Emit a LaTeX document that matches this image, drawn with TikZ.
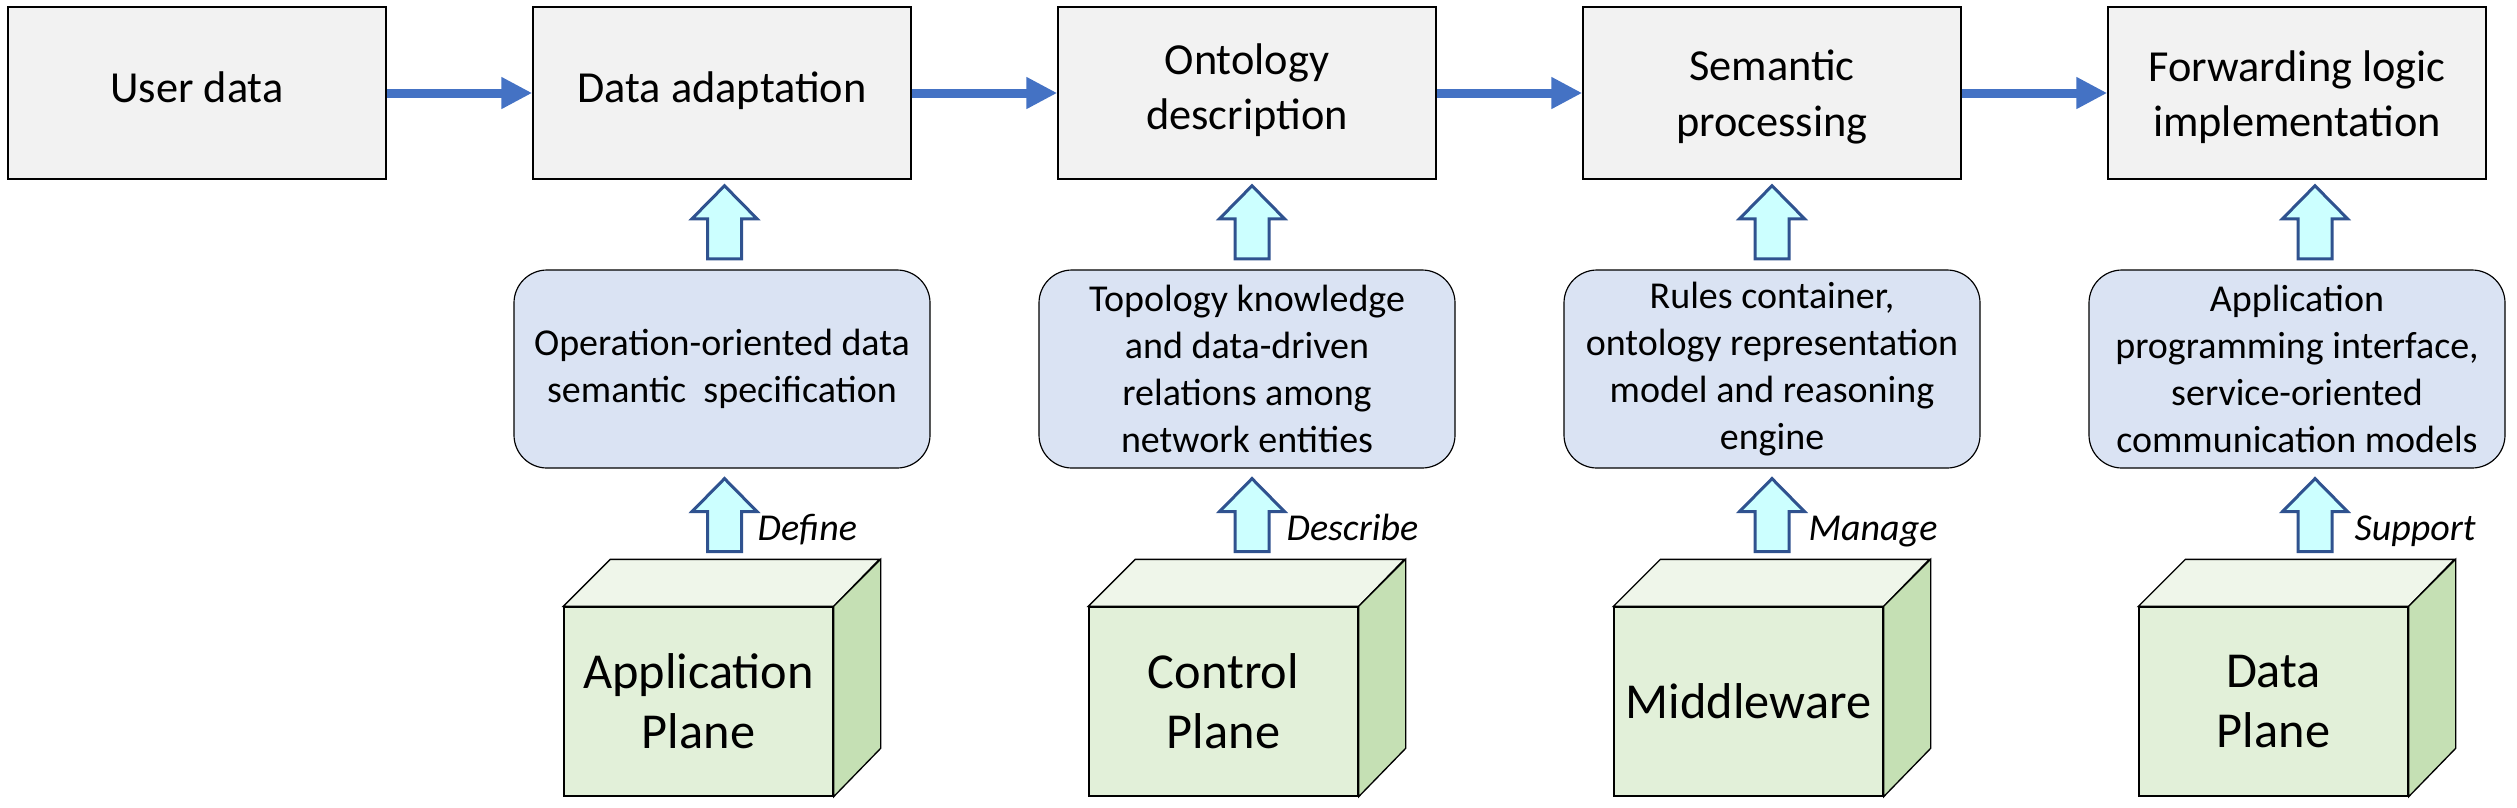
\documentclass[tikz,border=0pt]{standalone}
\usepackage{fontspec}
\setmainfont{Carlito}
\usetikzlibrary{arrows.meta,calc}
\definecolor{flowblue}{HTML}{4472C4}
\definecolor{boxgray}{HTML}{F2F2F2}
\definecolor{roundblue}{HTML}{DAE3F3}
\definecolor{arrowfill}{HTML}{CCFFFF}
\definecolor{arrowline}{HTML}{2F528F}
\definecolor{cubefront}{HTML}{E2F0D9}
\definecolor{cubetop}{HTML}{EFF6EA}
\definecolor{cubeside}{HTML}{C5E0B4}
\tikzset{
  topbox/.style={draw=black, line width=0.45pt, fill=boxgray, minimum width=113.4pt, minimum height=51.6pt, inner sep=0pt},
  toptext/.style={font=\fontsize{13.3}{16.6}\selectfont, align=center, inner sep=0pt},
  flow/.style={draw=flowblue, line width=2.7pt, -{Triangle[length=9.3pt,width=9pt]}},
  roundbox/.style={draw=black, line width=0.35pt, fill=roundblue, rounded corners=9.9pt, minimum width=124.8pt, minimum height=59.4pt, align=center, font=\fontsize{11.4}{14.1}\selectfont, inner sep=0pt},
  blockarrow/.style={draw=arrowline, fill=arrowfill, line width=0.9pt, line join=miter},
  cubefrontface/.style={draw=black, line width=0.4pt, fill=cubefront, minimum width=80.7pt, minimum height=56.7pt, inner sep=0pt, align=center, font=\fontsize{15.1}{17.9}\selectfont},
  cubetopface/.style={draw=black, line width=0.4pt, fill=cubetop, line join=miter},
  cubesideface/.style={draw=black, line width=0.4pt, fill=cubeside, line join=miter},
  tag/.style={font=\itshape\fontsize{11.4}{14}\selectfont, anchor=base west, inner sep=0pt},
}
\newcommand\blockup[1]{%
  \draw[blockarrow] (#1) -- ++(32.5,33) -- ++(-15.5,0) -- ++(0,40) -- ++(-34,0) -- ++(0,-40) -- ++(-15.5,0) -- cycle;}
\newcommand\cubeparts[1]{%
  \draw[cubetopface] (#1.north west) -- ++(47,-47) -- ++(269,0) -- (#1.north east) -- cycle;
  \draw[cubesideface] (#1.north east) -- ++(47,-47) -- ++(0,189) -- (#1.south east) -- cycle;}
\begin{document}
\begin{tikzpicture}[x=0.3pt,y=-0.3pt]
\useasboundingbox (0,0) rectangle (2517,807);
% top row boxes
\node[topbox] (ud) at (197,93) {};
\node[topbox] (da) at (722,93) {};
\node[topbox] (od) at (1247,93) {};
\node[topbox] (sp) at (1772,93) {};
\node[topbox] (fl) at (2297,93) {};
\node[toptext, anchor=base] (udt) at (197,102) {User data};
\node[toptext, anchor=base] (dat) at (722,102) {Data adaptation};
\node[toptext] (odt) at (1247,90) {Ontology\\description};
\node[toptext] (spt) at (1772,97) {Semantic\\processing};
\node[toptext] (flt) at (2297,97) {Forwarding logic\\implementation};
% flow arrows
\draw[flow] (ud.east) -- (da.west);
\draw[flow] (da.east) -- (od.west);
\draw[flow] (od.east) -- (sp.west);
\draw[flow] (sp.east) -- (fl.west);
% rounded boxes
\node[roundbox] (r2) at (722,369) {Operation-oriented data\\semantic\ \ specification};
\node[roundbox] (r3) at (1247,369) {Topology knowledge\\and data-driven\\relations among\\network entities};
\node[roundbox] (r4) at (1772,369) {Rules container,\\ontology representation\\model and reasoning\\engine};
\node[roundbox] (r5) at (2297,369) {Application\\programming interface,\\service-oriented\\communication models};
% upper block arrows
\blockup{$(da.south)+(2.5,6)$}
\blockup{$(od.south)+(5,6)$}
\blockup{$(sp.south)+(0,6)$}
\blockup{$(fl.south)+(18,6)$}
% lower block arrows
\blockup{$(r2.south)+(2.5,10)$}
\blockup{$(r3.south)+(5,10)$}
\blockup{$(r4.south)+(0,10)$}
\blockup{$(r5.south)+(18,10)$}
% labels
\node[tag] (lb2) at (757,540) {Define};
\node[tag] (lb3) at (1286,540) {Describe};
\node[tag] (lb4) at (1808,540) {Manage};
\node[tag] (lb5) at (2354,540) {Support};
% cubes
\node[cubefrontface] (c2) at (698.5,701.5) {Application\\Plane};
\cubeparts{c2}
\node[cubefrontface] (c3) at (1223.5,701.5) {Control\\Plane};
\cubeparts{c3}
\node[cubefrontface] (c4) at (1748.5,701.5) {Middleware};
\cubeparts{c4}
\node[cubefrontface] (c5) at (2273.5,701.5) {Data\\Plane};
\cubeparts{c5}
\end{tikzpicture}
\end{document}
